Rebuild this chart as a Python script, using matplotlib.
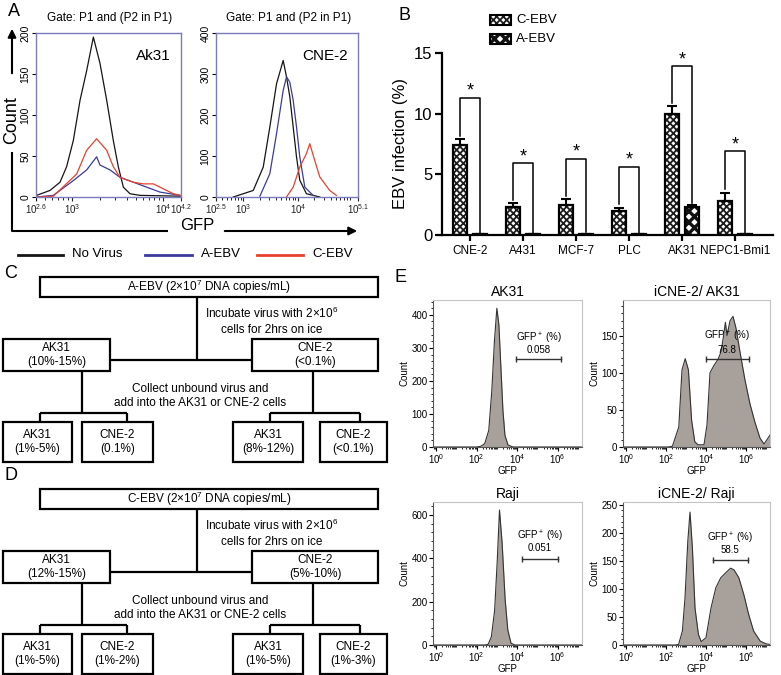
import numpy as np
import matplotlib
matplotlib.use('Agg')
import matplotlib.pyplot as plt
from matplotlib.patches import Rectangle
from matplotlib.ticker import FixedLocator, NullFormatter, LogLocator, AutoMinorLocator

plt.rcParams['font.family'] = ['Liberation Sans', 'DejaVu Sans']
plt.rcParams['mathtext.fontset'] = 'custom'
plt.rcParams['mathtext.rm'] = 'Liberation Sans'
plt.rcParams['mathtext.it'] = 'Liberation Sans:italic'
plt.rcParams['mathtext.bf'] = 'Liberation Sans:bold'
plt.rcParams['hatch.linewidth'] = 1.3

# ---------------- data ----------------
# panel A, log10(GFP) and counts
ak_black_x = [2.607, 2.754, 2.865, 2.938, 3.012, 3.086, 3.159, 3.233, 3.306, 3.380, 3.453, 3.508, 3.564, 3.637, 3.747, 4.189]
ak_black_y = [2, 8, 18, 37, 69, 118, 154, 195, 163, 118, 69, 37, 12, 4, 2, 1]
ak_blue_x = [2.607, 2.791, 3.012, 3.159, 3.269, 3.306, 3.417, 3.527, 3.674, 3.821, 3.968, 4.189]
ak_blue_y = [0, 2, 20, 33, 49, 39, 33, 24, 18, 12, 6, 2]
ak_red_x = [2.607, 2.791, 3.049, 3.159, 3.269, 3.380, 3.453, 3.527, 3.674, 3.784, 3.895, 4.005, 4.115, 4.189]
ak_red_y = [0, 1, 28, 57, 71, 57, 37, 24, 18, 16, 16, 10, 4, 2]

cne_black_x = [2.817, 3.182, 3.365, 3.486, 3.608, 3.730, 3.791, 3.852, 3.913, 3.974, 4.034, 4.156, 4.400]
cne_black_y = [0, 16, 73, 171, 276, 333, 293, 244, 171, 98, 41, 8, 0]
cne_blue_x = [3.304, 3.486, 3.608, 3.730, 3.791, 3.852, 3.913, 3.974, 4.034, 4.126, 4.278]
cne_blue_y = [2, 57, 154, 260, 293, 280, 236, 171, 98, 24, 4]
cne_red_x = [3.791, 3.913, 4.034, 4.156, 4.217, 4.308, 4.400, 4.582, 4.704]
cne_red_y = [0, 24, 73, 106, 130, 89, 49, 16, 4]

# panel B
b_cells = ['CNE-2', 'A431', 'MCF-7', 'PLC', 'AK31', 'NEPC1-Bmi1']
c_ebv = [7.4, 2.3, 2.5, 2.0, 10.0, 2.8]
c_err = [0.5, 0.3, 0.45, 0.25, 0.6, 0.7]
a_ebv = [0.05, 0.05, 0.08, 0.05, 2.3, 0.05]
a_err = [0, 0, 0, 0, 0.2, 0]
bracket_top = [11.3, 5.9, 6.3, 5.6, 13.9, 6.9]

# panels C / D
c_top = 'A-EBV (2×10$^7$ DNA copies/mL)'
c_mid = ['AK31\n(10%-15%)', 'CNE-2\n(<0.1%)']
c_bottom = ['AK31\n(1%-5%)', 'CNE-2\n(0.1%)', 'AK31\n(8%-12%)', 'CNE-2\n(<0.1%)']
d_top = 'C-EBV (2×10$^7$ DNA copies/mL)'
d_mid = ['AK31\n(12%-15%)', 'CNE-2\n(5%-10%)']
d_bottom = ['AK31\n(1%-5%)', 'CNE-2\n(1%-2%)', 'AK31\n(1%-5%)', 'CNE-2\n(1%-3%)']

# panel E, log10(GFP) and counts
e_ak31_x = [-0.15, 2.0, 2.2, 2.4, 2.6, 2.75, 2.88, 3.0, 3.1, 3.2, 3.3, 3.4, 3.55, 3.8, 7.2]
e_ak31_y = [0, 0, 2, 10, 50, 170, 320, 420, 370, 240, 110, 35, 6, 0, 0]
e_iak_x = [-0.15, 2.1, 2.32, 2.64, 2.8, 2.96, 3.12, 3.28, 3.44, 3.6, 3.9, 4.05, 4.2, 4.4, 4.6,
           4.75, 4.88, 4.97, 5.05, 5.2, 5.35, 5.5, 5.7, 5.95, 6.2, 6.45, 6.7, 6.9, 7.05, 7.2]
e_iak_y = [0, 0, 1, 27, 104, 119, 104, 36, 7, 3, 3, 30, 100, 110, 118,
           128, 150, 168, 150, 170, 176, 160, 128, 90, 58, 33, 12, 4, 10, 16]
e_raji_x = [-0.15, 2.4, 2.57, 2.73, 2.89, 3.02, 3.13, 3.26, 3.41, 3.54, 3.70, 3.9, 7.2]
e_raji_y = [0, 0, 3, 38, 160, 390, 623, 470, 208, 69, 8, 0, 0]
e_iraji_x = [-0.15, 2.45, 2.63, 2.82, 2.95, 3.09, 3.2, 3.32, 3.45, 3.62, 3.76, 4.0, 4.25, 4.49,
             4.74, 4.99, 5.23, 5.4, 5.64, 5.89, 6.13, 6.38, 6.71, 7.0, 7.2]
e_iraji_y = [0, 0, 1, 25, 84, 185, 237, 173, 66, 19, 6, 13, 66, 102,
             120, 129, 137, 134, 120, 90, 55, 25, 7, 2, 1]
e_titles = ['AK31', 'iCNE-2/ AK31', 'Raji', 'iCNE-2/ Raji']
e_gate_pct = ['0.058', '76.8', '0.051', '58.5']

# ---------------- figure ----------------
W, H = 781, 675
fig = plt.figure(figsize=(W / 100, H / 100), dpi=100)


def px_axes(x0, y0, x1, y1):
    return fig.add_axes([x0 / W, 1 - y1 / H, (x1 - x0) / W, (y1 - y0) / H])


ov = px_axes(0, 0, W, H)
ov.set_xlim(0, W)
ov.set_ylim(H, 0)
ov.axis('off')

for lab, x, y in [('A', 14, 12), ('B', 405, 15), ('C', 11, 273), ('D', 11, 475), ('E', 401, 277)]:
    ov.text(x, y, lab, fontsize=13, ha='center', va='center')

# ---- panel A ----
BLACK, BLUE, RED = '#151515', '#3b3b9e', '#e8402c'
frame = '#7b7bc0'


def flow_a(box, curves, xlim, ylim, yticks, xt, xtl, name):
    ax = px_axes(*box)
    for cx, cy, col in curves:
        ax.plot(10 ** np.array(cx), cy, color=col, lw=0.9)
    ax.set_xscale('log')
    ax.set_xlim(10 ** xlim[0], 10 ** xlim[1])
    ax.set_ylim(*ylim)
    ax.xaxis.set_major_locator(FixedLocator([10 ** v for v in xt]))
    ax.set_xticklabels(xtl)
    ax.xaxis.set_minor_locator(LogLocator(base=10, subs=np.arange(2, 10), numticks=20))
    ax.xaxis.set_minor_formatter(NullFormatter())
    ax.set_yticks(yticks)
    ax.tick_params(axis='x', labelsize=7, length=3, pad=1, colors='#222')
    ax.tick_params(axis='x', which='minor', length=2)
    ax.tick_params(axis='y', labelsize=7.5, length=3, pad=1, labelrotation=90)
    for lbl in ax.get_yticklabels():
        lbl.set_va('center')
    for sp in ax.spines.values():
        sp.set_color(frame)
        sp.set_linewidth(1.0)
    ax.text(0.93, 0.86, name, transform=ax.transAxes, ha='right', va='center', fontsize=11)
    return ax


flow_a((36, 33, 181, 197),
       [(ak_black_x, ak_black_y, BLACK), (ak_blue_x, ak_blue_y, BLUE), (ak_red_x, ak_red_y, RED)],
       (2.6, 4.2), (0, 200), [0, 50, 100, 150, 200], [2.6, 3, 4, 4.2],
       [r'$10^{2.6}$', r'$10^3$', r'$10^4$', r'$10^{4.2}$'], 'Ak31')
flow_a((216, 33, 358, 197),
       [(cne_black_x, cne_black_y, BLACK), (cne_blue_x, cne_blue_y, BLUE), (cne_red_x, cne_red_y, RED)],
       (2.5, 5.1), (0, 400), [0, 100, 200, 300, 400], [2.5, 3, 4, 5.1],
       [r'$10^{2.5}$', r'$10^3$', r'$10^4$', r'$10^{5.1}$'], 'CNE-2')

for xc in (110, 289):
    ov.text(xc, 18, 'Gate: P1 and (P2 in P1)', ha='center', va='center', fontsize=8.5)

ov.annotate('', xy=(12, 26), xytext=(12, 76),
            arrowprops=dict(arrowstyle='-|>', color='black', lw=1.5, mutation_scale=12))
ov.text(12, 120, 'Count', rotation=90, ha='center', va='center', fontsize=13)
ov.plot([12, 12, 168], [152, 231, 231], color='black', lw=1.5, solid_capstyle='butt')
ov.text(197, 226, 'GFP', ha='center', va='center', fontsize=12)
ov.annotate('', xy=(360, 231), xytext=(222, 231),
            arrowprops=dict(arrowstyle='-|>', color='black', lw=1.5, mutation_scale=12))

for x0, x1, col, txt in [(18, 63, BLACK, 'No Virus'), (145, 192, BLUE, 'A-EBV'), (257, 303, RED, 'C-EBV')]:
    ov.plot([x0, x1], [255, 255], color=col, lw=2)
    ov.text(x1 + 9, 254, txt, ha='left', va='center', fontsize=9.5)

# ---- panel B ----
axb = px_axes(442, 53, 773, 235)
n = len(b_cells)
xs = np.arange(n)
off, bw = 0.19, 0.27
# A-EBV (coarse checker) first, with a thicker hatch line
plt.rcParams['hatch.linewidth'] = 2.4
axb.bar(xs + off, a_ebv, bw, facecolor='white', edgecolor='#111111', hatch='xxx', lw=0)
ov.add_patch(Rectangle((490, 34), 21, 10, facecolor='white', edgecolor='#111111',
                       hatch='xxx', lw=0))
plt.rcParams['hatch.linewidth'] = 1.3
axb.bar(xs - off, c_ebv, bw, facecolor='white', edgecolor='#1c1c1c', hatch='xxxxx', lw=0)
ov.add_patch(Rectangle((490, 15), 21, 10, facecolor='white', edgecolor='#1c1c1c',
                       hatch='xxxxx', lw=0))
axb.bar(xs - off, c_ebv, bw, fill=False, edgecolor='black', lw=1.6)
axb.bar(xs + off, a_ebv, bw, fill=False, edgecolor='black', lw=1.6)
axb.errorbar(xs - off, c_ebv, yerr=[np.zeros(n), c_err], fmt='none', ecolor='black',
             elinewidth=1.5, capsize=3.5, capthick=1.5)
axb.errorbar(xs + off, a_ebv, yerr=[np.zeros(n), a_err], fmt='none', ecolor='black',
             elinewidth=1.5, capsize=3.5, capthick=1.5)
for i in range(n):
    yl = c_ebv[i] + c_err[i] + 0.3
    yr = a_ebv[i] + a_err[i] + 0.15
    top = bracket_top[i]
    axb.plot([i - off, i - off, i + off, i + off], [yl, top, top, yr], color='black', lw=1.1,
             clip_on=False)
    axb.text(i, top + 0.55, '*', ha='center', va='center', fontsize=13)
axb.set_xlim(-0.53, 5.72)
axb.set_ylim(0, 15)
axb.set_yticks([0, 5, 10, 15])
axb.set_xticks(xs)
axb.set_xticklabels(b_cells)
axb.tick_params(axis='y', labelsize=12, length=5, width=1.6, pad=2)
axb.tick_params(axis='x', labelsize=8.5, length=4, width=1.6, pad=3)
axb.set_ylabel('EBV infection (%)', fontsize=12, labelpad=4)
for s in ('top', 'right'):
    axb.spines[s].set_visible(False)
for s in ('left', 'bottom'):
    axb.spines[s].set_linewidth(1.6)

for y, txt in [(20, 'C-EBV'), (39, 'A-EBV')]:
    ov.add_patch(Rectangle((490, y - 5), 21, 10, fill=False, edgecolor='black', lw=1.5))
    ov.text(516, y, txt, ha='left', va='center', fontsize=9.5)


# ---- panels C and D ----
def box(x0, y0, x1, y1, txt):
    ov.add_patch(Rectangle((x0, y0), x1 - x0, y1 - y0, fill=False, edgecolor='black', lw=1.6))
    ov.text((x0 + x1) / 2, (y0 + y1) / 2, txt, ha='center', va='center', fontsize=8.5,
            linespacing=1.25)


def line(xx, yy):
    ov.plot(xx, yy, color='black', lw=1.6, solid_capstyle='butt')


def flowchart(y0, top, mid, bottom):
    box(40, y0, 378, y0 + 20, top)
    line([197, 197], [y0 + 20, y0 + 83])
    line([110, 252], [y0 + 83, y0 + 83])
    box(3, y0 + 62, 110, y0 + 94, mid[0])
    box(252, y0 + 62, 378, y0 + 94, mid[1])
    ov.text(272, y0 + 44, 'Incubate virus with 2×10$^6$\ncells for 2hrs on ice',
            ha='center', va='center', fontsize=8.5, linespacing=1.3)
    ov.text(200, y0 + 119, 'Collect unbound virus and\nadd into the AK31 or CNE-2 cells',
            ha='center', va='center', fontsize=8.5, linespacing=1.3)
    for xc, xl, xr in [(82, 40, 127), (313, 270, 360)]:
        line([xc, xc], [y0 + 94, y0 + 136])
        line([xl, xr], [y0 + 136, y0 + 136])
        line([xl, xl], [y0 + 136, y0 + 145])
        line([xr, xr], [y0 + 136, y0 + 145])
    for (bx0, bx1), txt in zip([(3, 72), (82, 153), (233, 303), (320, 387)], bottom):
        box(bx0, y0 + 145, bx1, y0 + 185, txt)


flowchart(277, c_top, c_mid, c_bottom)
flowchart(489, d_top, d_mid, d_bottom)

# ---- panel E ----
FILL = '#a8a09b'


def flow_e(box_px, cx, cy, ylim, yticks, title, gate, pct):
    ax = px_axes(*box_px)
    x = 10 ** np.array(cx)
    ax.fill_between(x, cy, 0, color=FILL, lw=0)
    ax.plot(x, cy, color='#333333', lw=0.8)
    ax.set_xscale('log')
    ax.set_xlim(10 ** -0.15, 10 ** 7.2)
    ax.set_ylim(*ylim)
    ax.set_yticks(yticks)
    ax.yaxis.set_minor_locator(AutoMinorLocator(5))
    ax.xaxis.set_major_locator(FixedLocator([1, 1e2, 1e4, 1e6]))
    ax.set_xticklabels([r'$10^0$', r'$10^2$', r'$10^4$', r'$10^6$'])
    ax.xaxis.set_minor_locator(LogLocator(base=10, subs=np.arange(1, 10), numticks=20))
    ax.xaxis.set_minor_formatter(NullFormatter())
    ax.tick_params(labelsize=7, length=3, width=0.8, pad=1)
    ax.tick_params(which='minor', length=1.5, width=0.6)
    for s in ('top', 'right'):
        ax.spines[s].set_color('#c4c4c4')
    for s in ('left', 'bottom'):
        ax.spines[s].set_color('#555555')
    for sp in ax.spines.values():
        sp.set_linewidth(0.8)
    ax.set_ylabel('Count', fontsize=7, labelpad=1)
    ax.set_xlabel('GFP', fontsize=7, labelpad=0)
    ax.set_title(title, fontsize=10, pad=3)
    g0, g1, gy, ty1, ty2 = gate
    ax.plot([10 ** g0, 10 ** g1], [gy, gy], color='#333333', lw=1, marker='|', ms=5, mew=1)
    xm = 10 ** ((g0 + g1) / 2)
    ax.text(xm, ty1, 'GFP$^+$ (%)', ha='center', va='center', fontsize=7)
    ax.text(xm, ty2, pct, ha='center', va='center', fontsize=7)
    return ax


flow_e((433, 300, 582, 447), e_ak31_x, e_ak31_y, (0, 445), [0, 100, 200, 300, 400],
       e_titles[0], (3.94, 6.17, 267, 330, 294), e_gate_pct[0])
flow_e((623, 300, 770, 447), e_iak_x, e_iak_y, (0, 198), [0, 50, 100, 150],
       e_titles[1], (4.0, 6.13, 118, 149, 131), e_gate_pct[1])
flow_e((433, 502, 582, 645), e_raji_x, e_raji_y, (0, 660), [0, 200, 400, 600],
       e_titles[2], (4.24, 6.0, 397, 503, 449), e_gate_pct[2])
flow_e((623, 502, 770, 645), e_iraji_x, e_iraji_y, (0, 255), [0, 50, 100, 150, 200, 250],
       e_titles[3], (4.33, 6.1, 151, 191, 170), e_gate_pct[3])

fig.savefig('out.png', dpi=100)
